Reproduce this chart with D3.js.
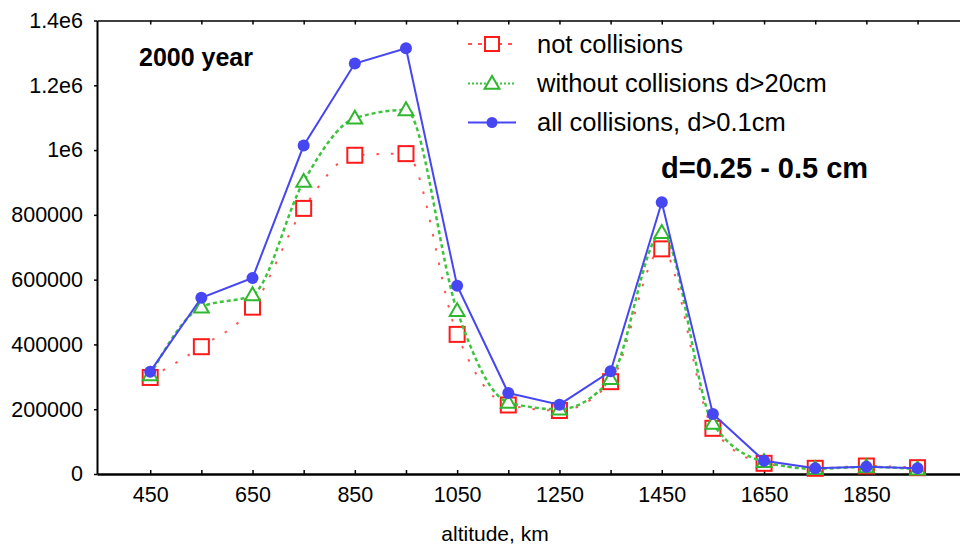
<!DOCTYPE html>
<html>
<head>
<meta charset="utf-8">
<script src="https://cdn.jsdelivr.net/npm/d3@7"></script>
<style>
  body { margin: 0; background: #fff; }
  svg { display: block; font-family: "Liberation Sans", Arial, sans-serif; }
</style>
</head>
<body>
<svg id="chart"></svg>
<script>
// altitudes, km
var altitudes = [450, 550, 650, 750, 850, 950, 1050, 1150, 1250, 1350, 1450, 1550, 1650, 1750, 1850, 1950];

// not collisions (red squares)
var notCollisions = [298000, 393000, 515000, 820000, 984000, 989000, 431000, 213000, 196000, 285000, 695000, 141000, 33000, 17600, 24700, 19500];
// without collisions d>20cm (green triangles)
var withoutCollisions = [306000, 515000, 553000, 903000, 1098000, 1124000, 504000, 221000, 200000, 294000, 745000, 156000, 38000, 16000, 22000, 15000];
// all collisions, d>0.1cm (blue dots)
var allCollisions = [316000, 544000, 605000, 1014000, 1267000, 1314000, 581000, 250000, 214000, 317000, 839000, 185000, 41000, 17600, 22500, 17600];

var xTicks = [450, 550, 650, 750, 850, 950, 1050, 1150, 1250, 1350, 1450, 1550, 1650, 1750, 1850, 1950];
var xLabels = ["450", "", "650", "", "850", "", "1050", "", "1250", "", "1450", "", "1650", "", "1850", ""];
var yTicks = [0, 200000, 400000, 600000, 800000, 1000000, 1200000, 1400000];
var yLabels = ["0", "200000", "400000", "600000", "800000", "1e6", "1.2e6", "1.4e6"];

var seriesNames = ["not collisions", "without collisions d>20cm", "all collisions, d>0.1cm"];

var svgWidth = 960, svgHeight = 547;
var svg = d3.select("#chart").attr("width", svgWidth).attr("height", svgHeight);

var x = d3.scaleLinear().domain([346, 2033]).range([97, 960]);
var y = d3.scaleLinear().domain([0, 1400000]).range([474, 20.5]);

var red = "#ff1a1a", green = "#2fb82f", greenLine = "#3cc43c", blue = "#4646f2";

// axes
var bottomAxis = svg.append("g")
    .attr("transform", "translate(0," + y(0) + ")")
    .call(d3.axisBottom(x).tickValues(xTicks).tickSizeInner(-4).tickSizeOuter(0).tickPadding(13)
        .tickFormat(function(d, i) { return xLabels[i]; }));
bottomAxis.select(".domain").attr("stroke-width", 2.5);

var topAxis = svg.append("g")
    .attr("transform", "translate(0," + y(1400000) + ")")
    .call(d3.axisTop(x).tickValues(xTicks).tickSizeInner(-4).tickSizeOuter(0).tickFormat(""));
topAxis.select(".domain").attr("stroke-width", 1.5);

var leftAxis = svg.append("g")
    .attr("transform", "translate(" + x(346) + ",0)")
    .call(d3.axisLeft(y).tickValues(yTicks).tickSizeInner(3).tickSizeOuter(0).tickPadding(11)
        .tickFormat(function(d, i) { return yLabels[i]; }));
leftAxis.select(".domain").attr("stroke-width", 2);

svg.selectAll(".tick text").attr("font-size", 21.5).attr("fill", "#000")
    .style("font-family", "'Liberation Sans', Arial, sans-serif");
svg.selectAll(".tick line").attr("stroke-width", 1.5);

// axis title
svg.append("text")
    .attr("x", 495).attr("y", 541)
    .attr("text-anchor", "middle")
    .attr("font-size", 21)
    .text("altitude, km");

// annotations
svg.append("text").attr("x", 139).attr("y", 66)
    .attr("font-size", 25).attr("font-weight", "bold").text("2000 year");
svg.append("text").attr("x", 661).attr("y", 178)
    .attr("font-size", 29).attr("font-weight", "bold").text("d=0.25 - 0.5 cm");

function toPoints(vals) {
    return vals.map(function(v, i) { return { alt: altitudes[i], value: v }; });
}

var smooth = d3.line()
    .x(function(d) { return x(d.alt); })
    .y(function(d) { return y(d.value); })
    .curve(d3.curveMonotoneX);
var straight = d3.line()
    .x(function(d) { return x(d.alt); })
    .y(function(d) { return y(d.value); });

var sq = 15, tri = d3.symbol().type(d3.symbolTriangle).size(95);

// red: not collisions
var redData = toPoints(notCollisions);
svg.append("path").datum(redData)
    .attr("fill", "none").attr("stroke", red).attr("stroke-opacity", 0.75)
    .attr("stroke-width", 2).attr("stroke-dasharray", "2.5,12")
    .attr("d", smooth);
svg.append("g").selectAll("rect").data(redData).join("rect")
    .attr("x", function(d) { return x(d.alt) - sq / 2; })
    .attr("y", function(d) { return y(d.value) - sq / 2; })
    .attr("width", sq).attr("height", sq)
    .attr("fill", "#fff").attr("stroke", red).attr("stroke-width", 2);

// green: without collisions
var greenData = toPoints(withoutCollisions);
svg.append("path").datum(greenData)
    .attr("fill", "none").attr("stroke", greenLine)
    .attr("stroke-width", 2.5).attr("stroke-dasharray", "4,3")
    .attr("d", smooth);
svg.append("g").selectAll("path").data(greenData).join("path")
    .attr("transform", function(d) { return "translate(" + x(d.alt) + "," + (y(d.value) + 1) + ")"; })
    .attr("d", tri)
    .attr("fill", "#fff").attr("stroke", green).attr("stroke-width", 2);

// blue: all collisions
var blueData = toPoints(allCollisions);
svg.append("path").datum(blueData)
    .attr("fill", "none").attr("stroke", blue)
    .attr("stroke-width", 2).attr("d", straight);
svg.append("g").selectAll("circle").data(blueData).join("circle")
    .attr("cx", function(d) { return x(d.alt); })
    .attr("cy", function(d) { return y(d.value); })
    .attr("r", 6).attr("fill", blue);

// legend
var legend = svg.append("g").attr("transform", "translate(468,0)");
var rows = [44, 83.5, 122.5];

legend.append("line").attr("x1", 0).attr("x2", 44).attr("y1", rows[0]).attr("y2", rows[0])
    .attr("stroke", red).attr("stroke-opacity", 0.75).attr("stroke-width", 2).attr("stroke-dasharray", "4,6");
legend.append("rect").attr("x", 24 - 7).attr("y", rows[0] - 7).attr("width", 14).attr("height", 14)
    .attr("fill", "#fff").attr("stroke", red).attr("stroke-width", 2);

legend.append("line").attr("x1", 0).attr("x2", 48).attr("y1", rows[1]).attr("y2", rows[1])
    .attr("stroke", greenLine).attr("stroke-width", 2).attr("stroke-dasharray", "2,2");
legend.append("path").attr("transform", "translate(24," + (rows[1] + 1) + ")").attr("d", tri)
    .attr("fill", "#fff").attr("stroke", green).attr("stroke-width", 2);

legend.append("line").attr("x1", 0).attr("x2", 48).attr("y1", rows[2]).attr("y2", rows[2])
    .attr("stroke", blue).attr("stroke-width", 2);
legend.append("circle").attr("cx", 24).attr("cy", rows[2]).attr("r", 5.5).attr("fill", blue);

legend.selectAll("text").data(seriesNames).join("text")
    .attr("x", 69)
    .attr("y", function(d, i) { return rows[i] + 8.5; })
    .attr("font-size", 25.5)
    .text(function(d) { return d; });
</script>
</body>
</html>
